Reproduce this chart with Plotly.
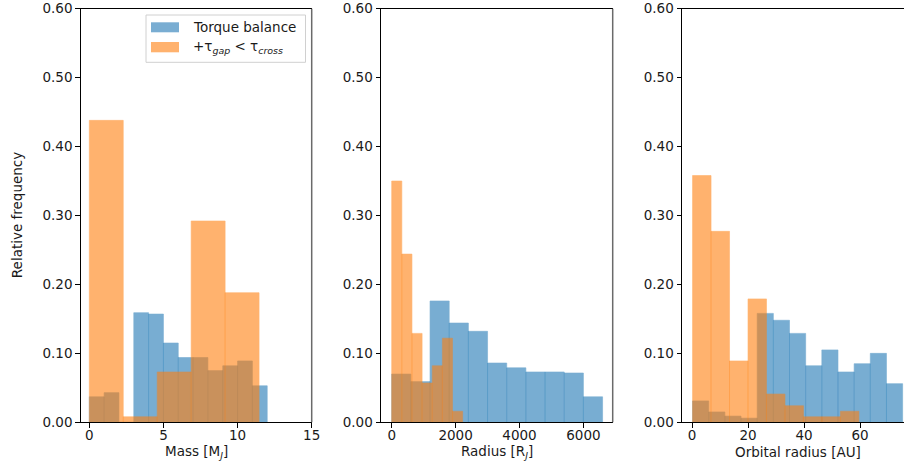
import plotly.graph_objects as go

W, H = 904, 463

# ---------------- data (relative frequencies per bin) ----------------
mass_edges_blue = [0, 1, 2, 3, 4, 5, 6, 7, 8, 9, 10, 11, 12]
mass_freq_blue = [0.037, 0.043, 0.0, 0.159, 0.157, 0.115, 0.094, 0.094, 0.075, 0.082, 0.089, 0.053]
mass_edges_orange = [0, 2.29, 4.58, 6.87, 9.16, 11.45]
mass_freq_orange = [0.438, 0.008, 0.073, 0.292, 0.188]

radius_edges_blue = [0, 600, 1200, 1800, 2400, 3000, 3600, 4200, 4800, 5400, 6000, 6600]
radius_freq_blue = [0.070, 0.059, 0.176, 0.144, 0.132, 0.086, 0.079, 0.073, 0.073, 0.0715, 0.037]
radius_edges_orange = [0, 317, 634, 951, 1269, 1586, 1903, 2220]
radius_freq_orange = [0.350, 0.244, 0.129, 0.057, 0.082, 0.122, 0.016]

orbit_edges_blue = [0.2, 5.97, 11.74, 17.51, 23.28, 29.05, 34.82, 40.59, 46.36, 52.13, 57.9, 63.67, 69.44, 75.21]
orbit_freq_blue = [0.031, 0.015, 0.009, 0.006, 0.158, 0.148, 0.129, 0.082, 0.105, 0.073, 0.085, 0.100, 0.056]
orbit_edges_orange = [0.2, 6.8, 13.4, 20.0, 26.6, 33.2, 39.8, 46.4, 53.0, 59.6]
orbit_freq_orange = [0.358, 0.277, 0.089, 0.179, 0.041, 0.024, 0.008, 0.008, 0.016]

y_ticks = [0.0, 0.1, 0.2, 0.3, 0.4, 0.5, 0.6]
mass_ticks = [0, 5, 10, 15]
radius_ticks = [0, 2000, 4000, 6000]
orbit_ticks = [0, 20, 40, 60]

series_names = ["Torque balance", "+τ<sub><i>gap</i></sub> &lt; τ<sub><i>cross</i></sub>"]
x_titles = ["Mass [M<sub><i>J</i></sub>]", "Radius [R<sub><i>J</i></sub>]", "Orbital radius [AU]"]
y_title = "Relative frequency"

BLUE = "#1f77b4"
ORANGE = "#ff7f0e"
BLUE_PATCH = "#79add2"
ORANGE_PATCH = "#ffb26e"
FONT = "DejaVu Sans"
TXT = "#1a1a1a"
FS = 13.5


def px_x(p):
    return p / W


def px_y(p):
    return 1 - p / H


fig = go.Figure()


def add_hist(edges, freq, color, ax):
    centers = [(edges[i] + edges[i + 1]) / 2 for i in range(len(freq))]
    widths = [edges[i + 1] - edges[i] for i in range(len(freq))]
    fig.add_trace(go.Bar(
        x=centers, y=freq, width=widths,
        marker=dict(color=color, opacity=0.6, line=dict(color=color, width=0.6)),
        xaxis="x" + ax, yaxis="y" + ax, showlegend=False, hoverinfo="x+y",
    ))


panels = [
    ("", mass_edges_blue, mass_freq_blue, mass_edges_orange, mass_freq_orange),
    ("2", radius_edges_blue, radius_freq_blue, radius_edges_orange, radius_freq_orange),
    ("3", orbit_edges_blue, orbit_freq_blue, orbit_edges_orange, orbit_freq_orange),
]
for ax, eb, fb, eo, fo in panels:
    add_hist(eb, fb, BLUE, ax)
    add_hist(eo, fo, ORANGE, ax)

y_dom = [px_y(422.3), px_y(8.7)]
x_doms = [[px_x(80.7), px_x(311.7)], [px_x(381.0), px_x(612.7)], [px_x(682.0), 1.0]]
x_ranges = [[-0.58, 15], [-335, 6917], [-3.57, 75.7]]
x_tickvals = [mass_ticks, radius_ticks, orbit_ticks]

layout = dict(
    width=W, height=H,
    margin=dict(l=0, r=0, t=0, b=0, pad=0),
    barmode="overlay",
    paper_bgcolor="white", plot_bgcolor="white",
    font=dict(family=FONT, size=FS, color=TXT),
    showlegend=False,
)

for i in range(3):
    sx = "" if i == 0 else str(i + 1)
    layout["xaxis" + sx] = dict(
        domain=x_doms[i], range=x_ranges[i], anchor="y" + sx,
        tickmode="array", tickvals=x_tickvals[i],
        ticks="outside", ticklen=4.5, tickwidth=1, tickcolor="black",
        ticklabelstandoff=-4,
        showline=True, linecolor="black", linewidth=1, mirror=True,
        showgrid=False, zeroline=False, automargin=False,
        tickfont=dict(family=FONT, size=FS, color=TXT),
    )
    layout["yaxis" + sx] = dict(
        domain=y_dom, range=[0, 0.6], anchor="x" + sx,
        tickmode="array", tickvals=y_ticks, tickformat=".2f",
        ticks="outside", ticklen=4.5, tickwidth=1, tickcolor="black",
        showline=True, linecolor="black", linewidth=1, mirror=False,
        showgrid=False, zeroline=False, automargin=False,
        tickfont=dict(family=FONT, size=FS, color=TXT),
    )

shapes = []
# right spines (appear grey in the reference)
for i in range(2):
    sx = "" if i == 0 else str(i + 1)
    shapes.append(dict(type="line", xref="x" + sx + " domain", yref="y" + sx + " domain",
                       x0=1, x1=1, y0=0, y1=1, line=dict(color="#6a6a6a", width=1.5)))

# manual legend box
shapes.append(dict(type="rect", xref="paper", yref="paper",
                   x0=px_x(146), x1=px_x(305.5), y0=px_y(62.3), y1=px_y(15),
                   fillcolor="rgba(255,255,255,0.8)", line=dict(color="#d0d0d0", width=1)))
shapes.append(dict(type="rect", xref="paper", yref="paper",
                   x0=px_x(151), x1=px_x(179), y0=px_y(32.3), y1=px_y(22.3),
                   fillcolor=BLUE_PATCH, line=dict(width=0)))
shapes.append(dict(type="rect", xref="paper", yref="paper",
                   x0=px_x(151), x1=px_x(179), y0=px_y(52.3), y1=px_y(42.0),
                   fillcolor=ORANGE_PATCH, line=dict(width=0)))
layout["shapes"] = shapes

annotations = []
annotations.append(dict(text=series_names[0], xref="paper", yref="paper",
                        x=px_x(190.5), y=px_y(27.3), xanchor="left", yanchor="middle",
                        showarrow=False, font=dict(family=FONT, size=FS, color=TXT)))
annotations.append(dict(text=series_names[1], xref="paper", yref="paper",
                        x=px_x(190.5), y=px_y(47.0), xanchor="left", yanchor="middle",
                        showarrow=False, font=dict(family=FONT, size=FS, color=TXT)))
centers_px = [196.2, 496.8, 797.5]
for i in range(3):
    annotations.append(dict(text=x_titles[i], xref="paper", yref="paper",
                            x=px_x(centers_px[i]), y=px_y(452.0), xanchor="center", yanchor="middle",
                            showarrow=False, font=dict(family=FONT, size=FS, color=TXT)))
annotations.append(dict(text=y_title, xref="paper", yref="paper",
                        x=px_x(16.7), y=px_y(215.5), xanchor="center", yanchor="middle",
                        textangle=-90, showarrow=False, font=dict(family=FONT, size=FS, color=TXT)))
layout["annotations"] = annotations

fig.update_layout(**layout)
fig.write_html(
    "out.html",
    config={"displayModeBar": False},
    post_script="document.body.style.margin='0';document.body.style.overflow='hidden';",
)
